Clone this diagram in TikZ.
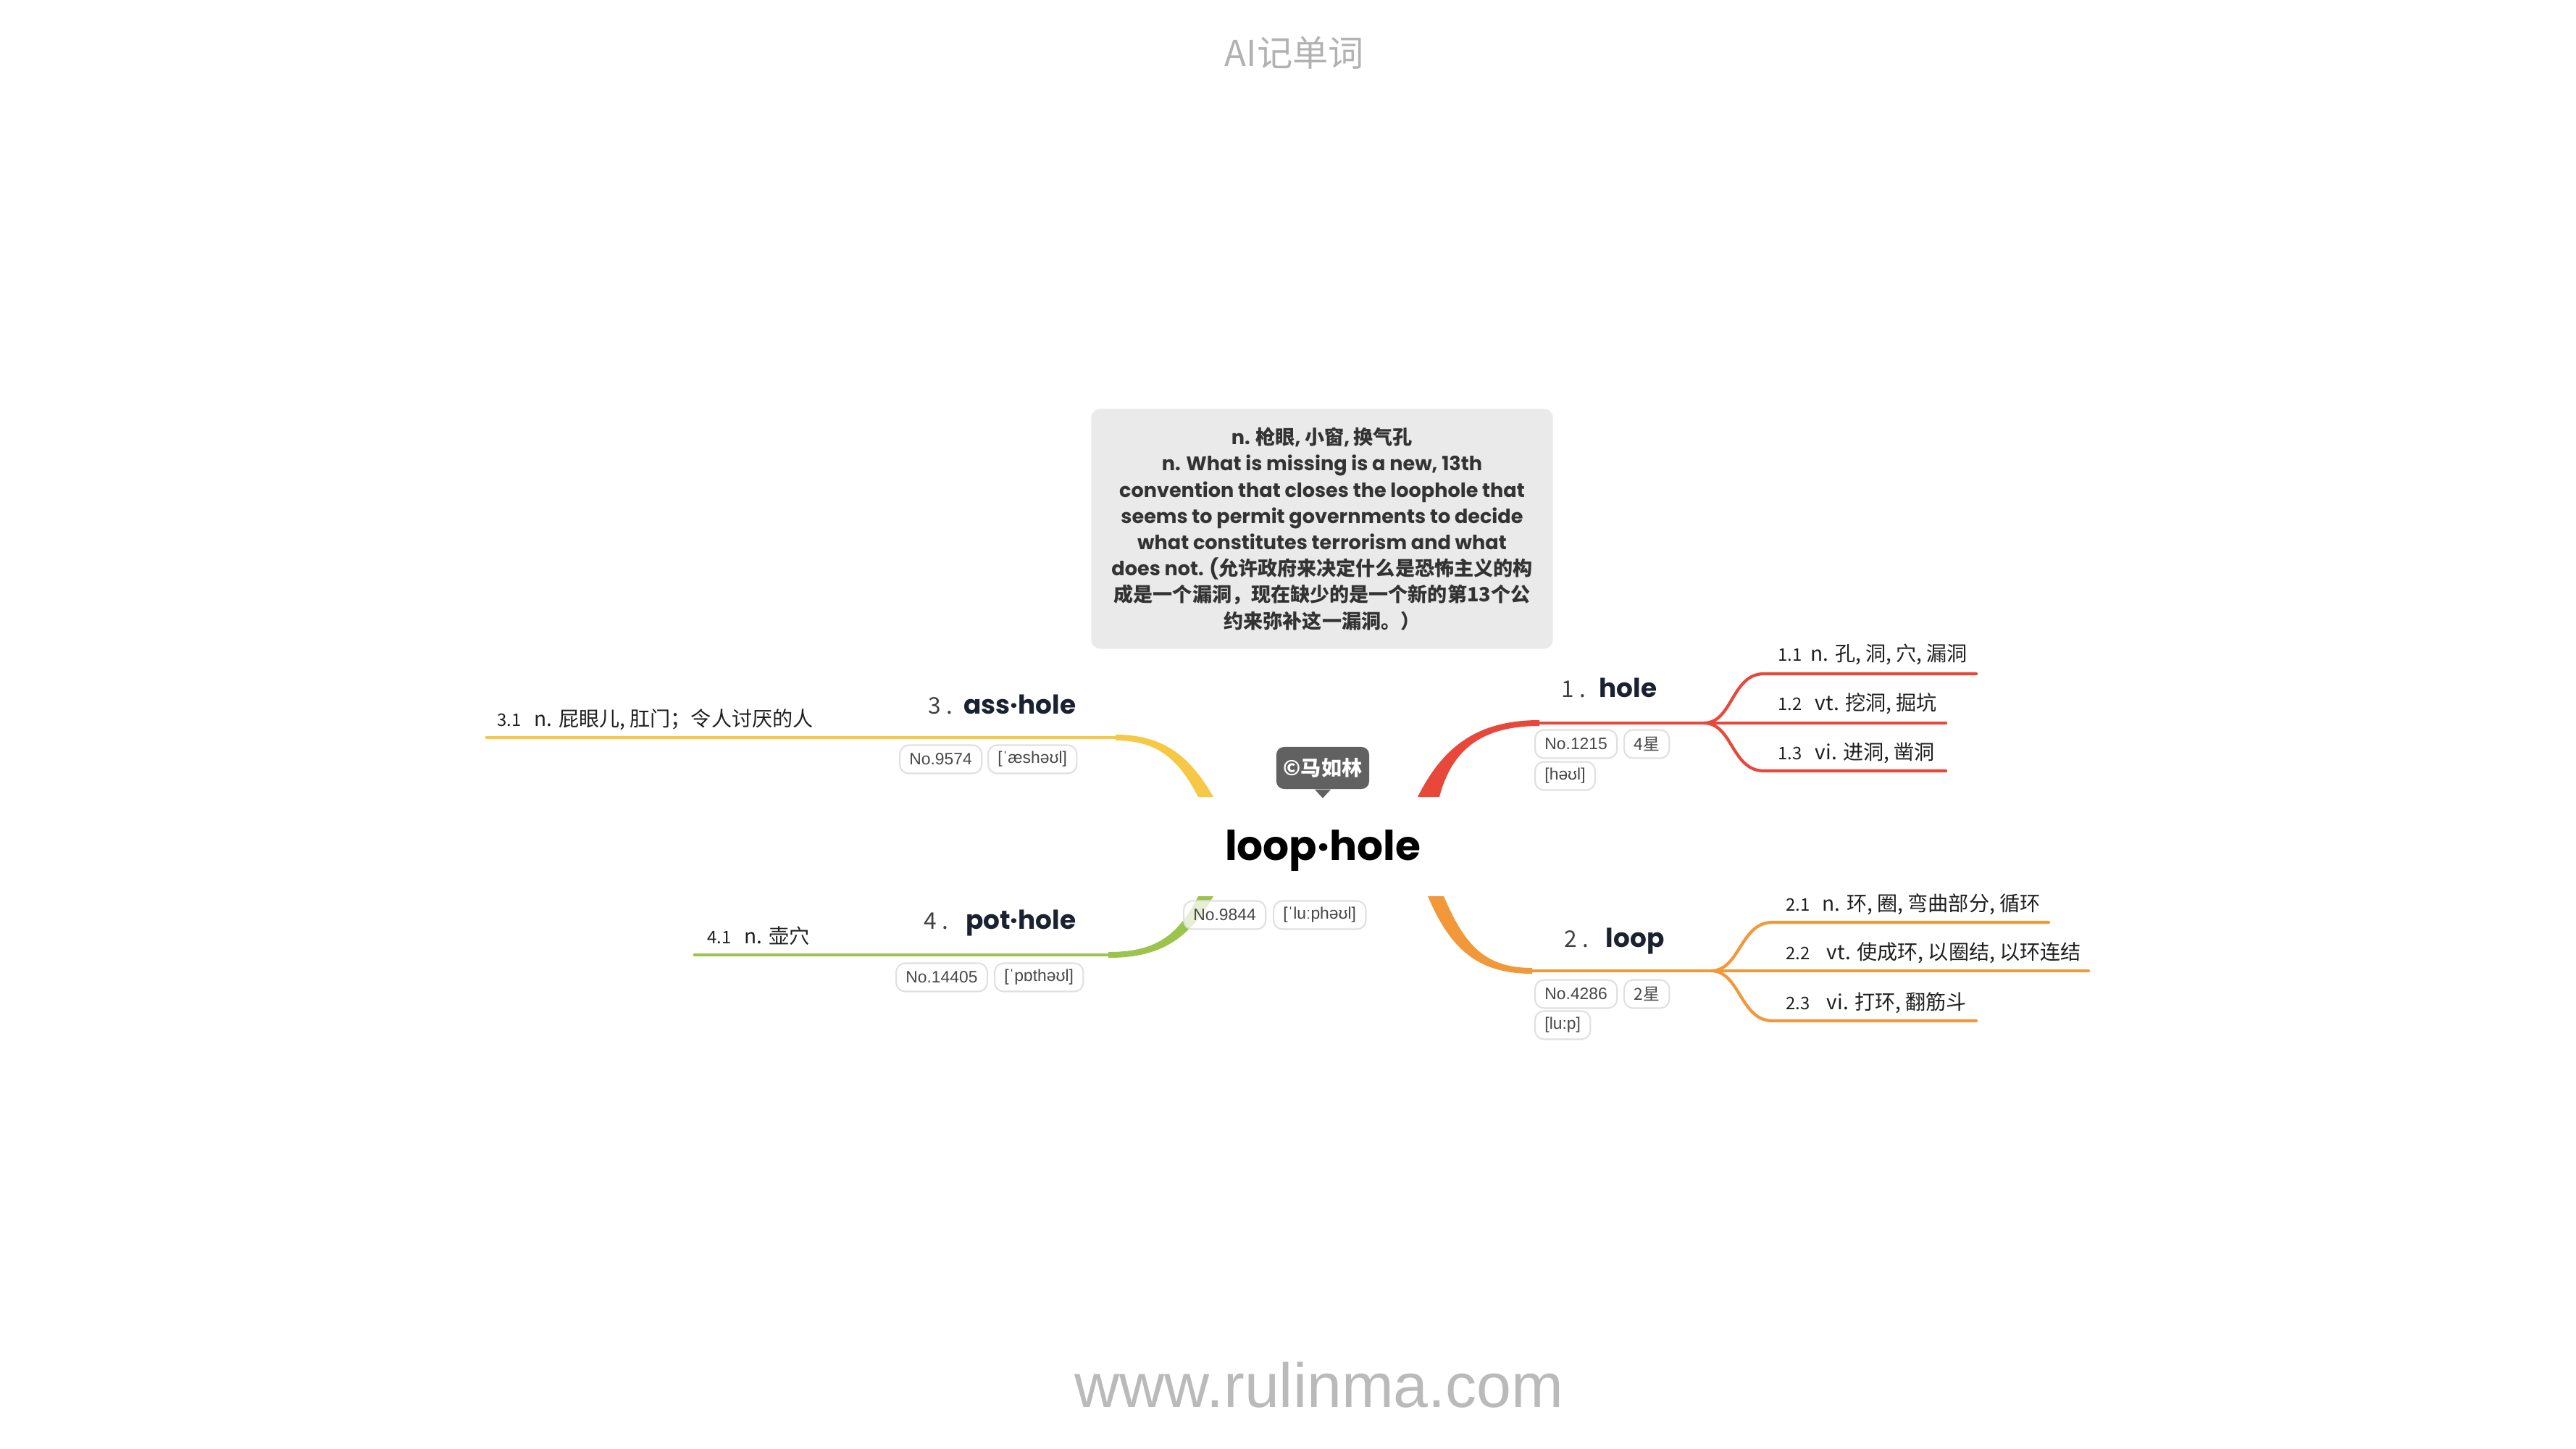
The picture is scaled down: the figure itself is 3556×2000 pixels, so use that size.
\documentclass[tikz,border=0pt]{standalone}
\usepackage{fontspec}
\usepackage{tikz}
\setmainfont{Liberation Sans}
\newfontfamily\zhfont{Noto Sans CJK SC}
\newfontfamily\popfont{Poppins}
\newcommand{\zh}[1]{{\zhfont #1}}
\definecolor{holered}{RGB}{232,72,58}
\definecolor{looporange}{RGB}{241,152,58}
\definecolor{assyellow}{RGB}{246,200,70}
\definecolor{potgreen}{RGB}{156,195,76}
\definecolor{ink}{RGB}{26,34,50}
\definecolor{notegray}{RGB}{234,234,234}

\begin{document}
\begin{tikzpicture}
  [x=0.01cm,y=-0.01cm,every node/.style={inner sep=0pt},
   word/.style={font=\popfont\bfseries\fontsize{10.2}{12}\selectfont,text=ink},
   hnum/.style={anchor=base west,font=\zhfont\fontsize{9}{11}\selectfont,text=black!75},
   sense/.style={anchor=base west,font=\zhfont\fontsize{8}{10}\selectfont,text=black!88},
   snum/.style={anchor=base west,font=\zhfont\fontsize{6.8}{8}\selectfont,text=black!88},
   pill/.style={anchor=west,draw=black!12,line width=0.6pt,rounded corners=3.5pt,
     fill=white,fill opacity=.75,text opacity=1,inner xsep=3.8pt,
     minimum height=0.39cm,font=\fontsize{6.5}{8}\selectfont,text=black!72},
   limb/.style={line width=1.4pt,line cap=round},
   twig/.style={line width=1.2pt,line cap=round}]
  \useasboundingbox (0,0) rectangle (3556,2000);

  \node[font=\zhfont\fontsize{14}{16}\selectfont,text=black!30] (title) at (1787,73) {AI记单词};
  \node[font=\fontsize{24.5}{28}\selectfont,text=black!27] (site) at (1821,1912) {www.rulinma.com};

  % note box
  \node[fill=notegray,rounded corners=3.5pt,minimum width=6.37cm,minimum height=3.31cm,
        align=center,text=black!80,font=\popfont\bfseries\fontsize{7.7}{10.3}\selectfont]
    (note) at (1825,730)
    {n. \zh{枪眼}, \zh{小窗}, \zh{换气孔}\\
     n. What is missing is a new, 13th\\
     convention that closes the loophole that\\
     seems to permit governments to decide\\
     what constitutes terrorism and what\\
     does not. (\zh{允许政府来决定什么是恐怖主义的构}\\
     \zh{成是一个漏洞，现在缺少的是一个新的第13个公}\\
     \zh{约来弥补这一漏洞。）}};

  % centre
  \node[font=\popfont\bfseries\fontsize{16.1}{20}\selectfont] (root) at (1826,1174) {loop·hole};
  \node[fill=black!62,rounded corners=3pt,minimum width=1.28cm,minimum height=0.58cm,
        text=white,font=\zhfont\bfseries\fontsize{8}{10}\selectfont] (copy) at (1826,1060) {©马如林};
  \fill[black!62] (copy.south) ++(-11,0) -- ++(11,12) -- ++(11,-12) -- cycle;

  \coordinate (hole-j) at (2352,998);
  \coordinate (loop-j) at (2362,1340);

  % branches
  \fill[holered] (1957,1100) .. controls (1992,1030) and (2040,994) .. (2125,994)
    -- (2125,1002) .. controls (2045,1002) and (2004,1035) .. (1987,1100) -- cycle;
  \draw[holered,limb] (2122,998) -- (hole-j);
  \draw[holered,twig] (hole-j) .. controls +(40,0) and +(-45,0) .. (2435,930) -- (2728,930);
  \draw[holered,twig] (hole-j) -- (2686,998);
  \draw[holered,twig] (hole-j) .. controls +(40,0) and +(-45,0) .. (2435,1064) -- (2686,1064);

  \fill[looporange] (1971,1237) .. controls (2002,1310) and (2040,1344) .. (2115,1344)
    -- (2115,1336) .. controls (2050,1336) and (2022,1305) .. (1993,1237) -- cycle;
  \draw[looporange,limb] (2112,1340) -- (loop-j);
  \draw[looporange,twig] (loop-j) .. controls +(40,0) and +(-45,0) .. (2447,1273) -- (2828,1273);
  \draw[looporange,twig] (loop-j) -- (2883,1340);
  \draw[looporange,twig] (loop-j) .. controls +(40,0) and +(-45,0) .. (2447,1409) -- (2728,1409);

  \fill[assyellow] (1675,1100) .. controls (1645,1048) and (1610,1014) .. (1540,1014)
    -- (1540,1022) .. controls (1600,1022) and (1628,1050) .. (1654,1100) -- cycle;
  \draw[assyellow,limb] (1543,1018) -- (672,1018);

  \fill[potgreen] (1675,1237) .. controls (1640,1298) and (1600,1322) .. (1530,1322)
    -- (1530,1314) .. controls (1595,1314) and (1626,1292) .. (1654,1237) -- cycle;
  \draw[potgreen,limb] (1533,1318) -- (959,1318);

  % headers
  \node[hnum] (hole-n) at (2155,962) {1 .};
  \node[word,anchor=base west] (hole) at (2207,962) {hole};
  \node[hnum] (loop-n) at (2159,1307) {2 .};
  \node[word,anchor=base west] (loop) at (2216,1307) {loop};
  \node[hnum] (ass-n) at (1281,985) {3 .};
  \node[word,anchor=base east] (ass) at (1486,985) {ass·hole};
  \node[hnum] (pot-n) at (1275,1282) {4 .};
  \node[word,anchor=base east] (pot) at (1486,1282) {pot·hole};

  % senses
  \node[snum] (s11n) at (2454,912) {1.1};
  \node[sense] (s11) at (2499,912) {n. 孔, 洞, 穴, 漏洞};
  \node[snum] (s12n) at (2454,980) {1.2};
  \node[sense] (s12) at (2505,980) {vt. 挖洞, 掘坑};
  \node[snum] (s13n) at (2454,1048) {1.3};
  \node[sense] (s13) at (2505,1048) {vi. 进洞, 凿洞};
  \node[snum] (s21n) at (2465,1257) {2.1};
  \node[sense] (s21) at (2515,1257) {n. 环, 圈, 弯曲部分, 循环};
  \node[snum] (s22n) at (2465,1324) {2.2};
  \node[sense] (s22) at (2521,1324) {vt. 使成环, 以圈结, 以环连结};
  \node[snum] (s23n) at (2465,1393) {2.3};
  \node[sense] (s23) at (2521,1393) {vi. 打环, 翻筋斗};
  \node[snum] (s31n) at (686,1002) {3.1};
  \node[sense] (s31) at (737,1002) {n. 屁眼儿, 肛门；令人讨厌的人};
  \node[snum] (s41n) at (976,1302) {4.1};
  \node[sense] (s41) at (1027,1302) {n. 壶穴};

  % tags
  \node[pill] (root-no) at (1633,1263) {No.9844};
  \node[pill] (root-ph) at (1757,1263) {[ˈluːphəʊl]};
  \node[pill] (hole-no) at (2118,1027) {No.1215};
  \node[pill] (hole-st) at (2241,1027) {\zh{4星}\hspace{8pt}};
  \node[pill] (hole-ph) at (2118,1071) {[həʊl]};
  \node[pill] (loop-no) at (2118,1372) {No.4286};
  \node[pill] (loop-st) at (2241,1372) {\zh{2星}\hspace{8pt}};
  \node[pill] (loop-ph) at (2118,1415) {[lu:p]};
  \node[pill] (ass-no) at (1241,1048) {No.9574};
  \node[pill] (ass-ph) at (1363,1048) {[ˈæshəʊl]};
  \node[pill] (pot-no) at (1236,1349) {No.14405};
  \node[pill] (pot-ph) at (1372,1349) {[ˈpɒthəʊl]};
\end{tikzpicture}
\end{document}
